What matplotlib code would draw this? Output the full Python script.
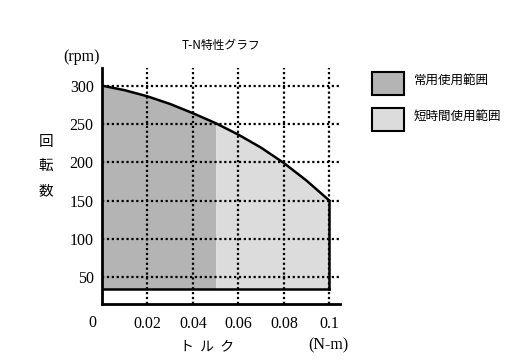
import matplotlib
matplotlib.use("Agg")
import matplotlib.pyplot as plt
from matplotlib.patches import Rectangle
import numpy as np

# Data
torque = [0.0, 0.01, 0.02, 0.03, 0.04, 0.05, 0.06, 0.07, 0.08, 0.09, 0.1]
speed = [300, 294, 286, 276, 264, 251, 236, 219, 199, 176, 150]
base_speed = 35
continuous_limit = 0.05
x_ticks = [0.02, 0.04, 0.06, 0.08, 0.1]
x_tick_labels = ["0.02", "0.04", "0.06", "0.08", "0.1"]
y_ticks = [50, 100, 150, 200, 250, 300]
y_tick_labels = ["50", "100", "150", "200", "250", "300"]
legend_labels = ["常用使用範囲", "短時間使用範囲"]
title = "T-N特性グラフ"

dark = "#b4b4b4"
light = "#dcdcdc"
serif = ["Liberation Serif", "DejaVu Serif"]
cjk = ["Noto Sans CJK JP", "DejaVu Sans"]

W, H = 531, 361
fig = plt.figure(figsize=(W / 100, H / 100), dpi=100)
ax = fig.add_axes([102 / W, 1 - 303.7 / H, (340 - 102) / W, (303.7 - 68) / H])
ax.set_xlim(0, 0.1047)
ax.set_ylim(15.4, 323)

t = np.array(torque)
s = np.array(speed)
m1 = t <= continuous_limit + 1e-12
m2 = t >= continuous_limit - 1e-12
ax.fill_between(t[m1], base_speed, s[m1], color=dark, lw=0, zorder=1)
ax.fill_between(t[m2], base_speed, s[m2], color=light, lw=0, zorder=1)

# grid
for xv in x_ticks:
    ax.axvline(xv, color="black", lw=1.6, ls=(0, (1, 1.2)), zorder=2)
for yv in y_ticks:
    ax.axhline(yv, color="black", lw=1.6, ls=(0, (1, 1.2)), zorder=2)

# outline
ax.plot(t, s, color="black", lw=1.8, zorder=3, solid_joinstyle="round")
ax.plot([t[-1], t[-1]], [s[-1], base_speed], color="black", lw=1.8, zorder=3)
ax.plot([0, t[-1]], [base_speed, base_speed], color="black", lw=1.8, zorder=3)

for side in ["top", "right"]:
    ax.spines[side].set_visible(False)
for side in ["left", "bottom"]:
    ax.spines[side].set_linewidth(2)
    ax.spines[side].set_zorder(4)

ax.set_xticks(x_ticks)
ax.set_xticklabels(x_tick_labels, fontfamily=serif, fontsize=11.5)
ax.set_yticks(y_ticks)
ax.set_yticklabels(y_tick_labels, fontfamily=serif, fontsize=11.5)
ax.tick_params(length=0, pad=6)
ax.tick_params(axis="x", pad=9)

def px(x, y):
    return x / W, 1 - y / H

fig.text(*px(92, 323), "0", fontfamily=serif, fontsize=11.5, ha="center", va="center")
fig.text(*px(82, 57), "(rpm)", fontfamily=serif, fontsize=11.5, ha="center", va="center")
for ch, yy in zip("回転数", [142, 166, 191]):
    fig.text(*px(46, yy), ch, fontfamily=cjk, fontsize=10.5, ha="center", va="center")
fig.text(*px(207, 346), "ト  ル  ク", fontfamily=cjk, fontsize=10, ha="center", va="center")
fig.text(*px(328, 345), "(N-m)", fontfamily=serif, fontsize=11.5, ha="center", va="center")
fig.text(*px(221, 45), title, fontfamily=cjk, fontsize=8.5, ha="center", va="center")

# legend
for (y0, y1), col, lab in zip([(72, 95), (108, 131)], [dark, light], legend_labels):
    fig.patches.append(Rectangle(px(372, y1), 32 / W, (y1 - y0) / H,
                                 transform=fig.transFigure, facecolor=col,
                                 edgecolor="black", lw=1.5))
    fig.text(*px(414, (y0 + y1) / 2 - 2), lab, fontfamily=cjk, fontsize=9,
             ha="left", va="center")

fig.savefig("out.png", dpi=100)
